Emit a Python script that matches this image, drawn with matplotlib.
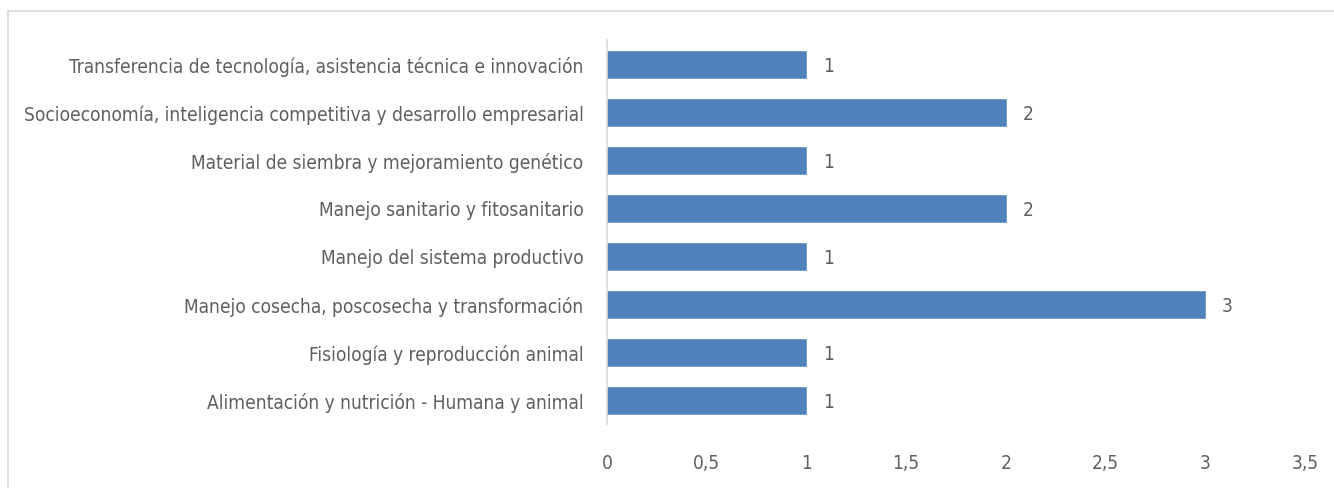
import matplotlib
matplotlib.use("Agg")
from matplotlib import pyplot as plt
from matplotlib import font_manager as fm
from matplotlib.patches import Rectangle

categories = [
    "Alimentación y nutrición - Humana y animal",
    "Fisiología y reproducción animal",
    "Manejo cosecha, poscosecha y transformación",
    "Manejo del sistema productivo",
    "Manejo sanitario y fitosanitario",
    "Material de siembra y mejoramiento genético",
    "Socioeconomía, inteligencia competitiva y desarrollo empresarial",
    "Transferencia de tecnología, asistencia técnica e innovación",
]
values = [1, 1, 3, 1, 2, 1, 2, 1]
xticks = [0, 0.5, 1, 1.5, 2, 2.5, 3, 3.5]
xtick_labels = ["0", "0,5", "1", "1,5", "2", "2,5", "3", "3,5"]

text_color = '#5f5f5f'


def narrow_font():
    # the original uses a condensed face; take one if any is installed
    best = None
    for f in fm.fontManager.ttflist:
        name = f.name
        if 'Mono' in name or 'Serif' in name or f.style != 'normal':
            continue
        if f.weight not in (400, 'normal', 'regular', 'book'):
            continue
        narrow = ('Narrow' in name or 'Condensed' in name
                  or f.stretch in ('condensed', 'semi-condensed'))
        if not narrow:
            continue
        rank = 0 if 'Liberation' in name else 1
        if best is None or rank < best[0]:
            best = (rank, f.fname)
    return best[1] if best else None


fname = narrow_font()
if fname:
    base = dict(fname=fname)
else:
    base = dict(family=['Roboto', 'DejaVu Sans'])

fig = plt.figure(figsize=(13.34, 4.89), dpi=100)

# pick a size so the longest label spans about as wide as in the original
renderer = fig.canvas.get_renderer()
probe = fig.text(0, 0, max(categories, key=len),
                 fontproperties=fm.FontProperties(size=16, **base))
width = probe.get_window_extent(renderer).width
probe.remove()
size = max(11, min(17, 16 * 560 / width))
fp = fm.FontProperties(size=size, **base)

# light frame around the chart area
fig.patches.append(Rectangle((8 / 1334, -0.1), 1.2, 1.1 - 12 / 489,
                             transform=fig.transFigure, fill=False,
                             edgecolor='#d9d9d9', linewidth=1.2))

ax = fig.add_axes([607 / 1334, 1 - 425 / 489, 698 / 1334, 384 / 489])
ypos = list(range(len(categories)))
ax.barh(ypos, values, height=0.5625, color='#4f81bd',
        edgecolor='#6a95c8', linewidth=0.6)

for y, v in zip(ypos, values):
    ax.text(v + 0.085, y - 0.03, str(v), va='center', ha='left',
            fontproperties=fp, color=text_color)

ax.set_xlim(0, 3.5)
ax.set_ylim(-0.5, len(categories) - 0.5)
ax.set_xticks(xticks)
ax.set_xticklabels(xtick_labels, fontproperties=fp)
ax.set_yticks(ypos)
ax.set_yticklabels(categories, fontproperties=fp)
ax.tick_params(axis='both', length=0, labelcolor=text_color)
ax.tick_params(axis='y', pad=17)
ax.tick_params(axis='x', pad=21)

for side in ('top', 'right', 'bottom'):
    ax.spines[side].set_visible(False)
ax.spines['left'].set_color('#d9d9d9')
ax.spines['left'].set_linewidth(1.2)

fig.savefig("out.png", dpi=100)
